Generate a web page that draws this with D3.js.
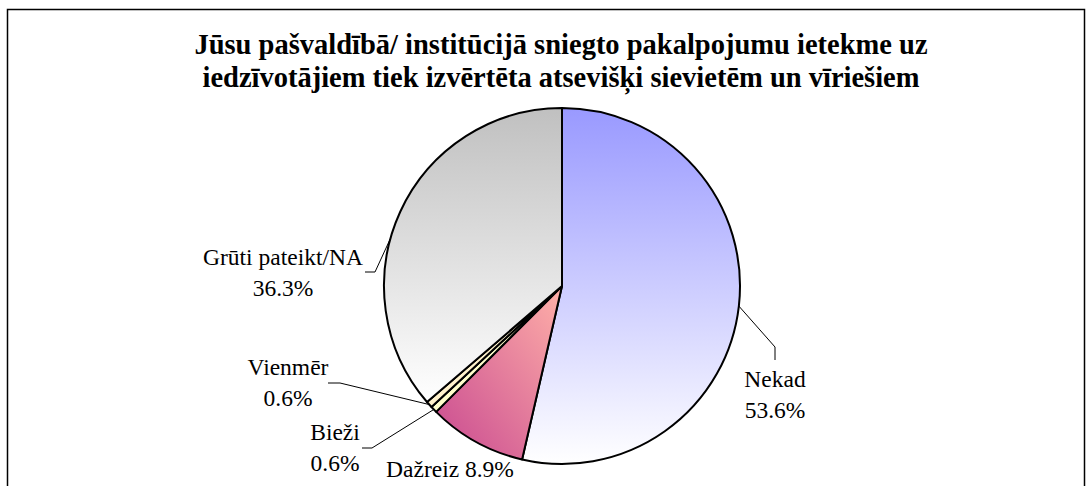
<!DOCTYPE html>
<html>
<head>
<meta charset="utf-8">
<script src="https://cdn.jsdelivr.net/npm/d3@7"></script>
<style>
  body { margin: 0; background: #fff; }
  svg { display: block; }
  text { font-family: "Liberation Serif", "Times New Roman", serif; fill: #000; }
</style>
</head>
<body>
<svg id="chart"></svg>
<script>
// Dati
const categories = ["Nekad", "Dažreiz", "Bieži", "Vienmēr", "Grūti pateikt/NA"];
const values = [53.6, 8.9, 0.6, 0.6, 36.3];
const titleLines = [
  "Jūsu pašvaldībā/ institūcijā sniegto pakalpojumu ietekme uz",
  "iedzīvotājiem tiek izvērtēta atsevišķi sievietēm un vīriešiem"
];

// Izmēri
const width = 1090, height = 486;
const cx = 562, cy = 286, radius = 178;

// etiķešu izvietojums attiecībā pret centru
const labelLayout = [
  { dx: 213, dy: 101, elbow: [[213, 61], [213, 74]], anchor: 0.5, oneLine: false },
  { dx: -112, dy: 191, elbow: null, anchor: 0.5, oneLine: true },
  { dx: -227, dy: 154, elbow: [[-190, 162], [-200, 162]], anchor: 0.5, oneLine: false },
  { dx: -274, dy: 89, elbow: [[-222, 97], [-234, 97]], anchor: 0.5, oneLine: false },
  { dx: -279, dy: -21, elbow: [[-187, -14], [-197, -14]], anchor: 0.43, oneLine: false }
];

const svg = d3.select("#chart")
  .attr("width", width)
  .attr("height", height);

svg.append("rect")
  .attr("width", width).attr("height", height)
  .attr("fill", "#fff");

// rāmis
svg.append("rect")
  .attr("x", 7.5).attr("y", 9.5)
  .attr("width", 1077).attr("height", 500)
  .attr("fill", "none")
  .attr("stroke", "#000")
  .attr("stroke-width", 1.5);

// virsraksts
svg.append("text")
  .attr("x", 561)
  .attr("y", 54)
  .attr("text-anchor", "middle")
  .attr("font-size", 28.5)
  .attr("font-weight", "bold")
  .selectAll("tspan")
  .data(titleLines)
  .join("tspan")
  .attr("x", 561)
  .attr("dy", (d, i) => i === 0 ? 0 : 33)
  .text(d => d);

// krāsu gradienti
const defs = svg.append("defs");
const grads = [
  { id: "g0", x2: 0, y2: 1, stops: ["#9999ff", "#ffffff"] },
  { id: "g1", x1: 1, y1: 0, x2: 0, y2: 1, stops: ["#ffb0a8", "#c84890"] },
  { id: "g2", x2: 0, y2: 1, stops: ["#ffffcc", "#ffffcc"] },
  { id: "g3", x2: 0, y2: 1, stops: ["#fff2cc", "#fff2cc"] },
  { id: "g4", x2: 0, y2: 1, stops: ["#c0c0c0", "#ffffff"] }
];
grads.forEach(g => {
  const lg = defs.append("linearGradient")
    .attr("id", g.id)
    .attr("x1", g.x1 || 0).attr("y1", g.y1 || 0)
    .attr("x2", g.x2).attr("y2", g.y2);
  lg.append("stop").attr("offset", "0%").attr("stop-color", g.stops[0]);
  lg.append("stop").attr("offset", "100%").attr("stop-color", g.stops[1]);
});

const pie = d3.pie().sort(null).value(d => d);
const arcs = pie(values);
const arc = d3.arc().innerRadius(0).outerRadius(radius);

const g = svg.append("g").attr("transform", `translate(${cx},${cy})`);

g.selectAll("path.slice")
  .data(arcs)
  .join("path")
  .attr("class", "slice")
  .attr("d", arc)
  .attr("fill", (d, i) => `url(#g${i})`)
  .attr("stroke", "#000")
  .attr("stroke-width", 2)
  .attr("stroke-linejoin", "round");

// etiķetes un līnijas
arcs.forEach((d, i) => {
  const L = labelLayout[i];
  const a = d.startAngle + (d.endAngle - d.startAngle) * L.anchor;
  const edge = [radius * Math.sin(a), -radius * Math.cos(a)];
  if (L.elbow) {
    g.append("polyline")
      .attr("points", [edge, L.elbow[0], L.elbow[1]].map(p => p.join(",")).join(" "))
      .attr("fill", "none")
      .attr("stroke", "#000")
      .attr("stroke-width", 1);
  }
  const t = g.append("text")
    .attr("x", L.dx)
    .attr("y", L.dy)
    .attr("text-anchor", "middle")
    .attr("font-size", 23.5);
  if (L.oneLine) {
    t.text(categories[i] + "  " + values[i].toFixed(1) + "%");
  } else {
    t.append("tspan").attr("x", L.dx).text(categories[i]);
    t.append("tspan").attr("x", L.dx).attr("dy", 31).text(values[i].toFixed(1) + "%");
  }
});
</script>
</body>
</html>
